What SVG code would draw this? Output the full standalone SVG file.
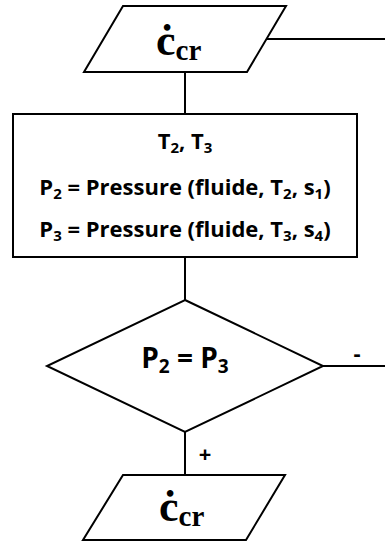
<svg xmlns="http://www.w3.org/2000/svg" width="385" height="543" viewBox="0 0 385 543">
<style>
.s{fill:#fff;stroke:#000;stroke-width:2}
.l{fill:none;stroke:#000;stroke-width:2}
.t{font-family:"Open Sans","Liberation Sans",sans-serif;font-weight:700;fill:#000;text-anchor:middle}
.b{font-size:22px}
.b tspan.u{font-size:15px}
.c{font-family:"Liberation Serif",serif;font-weight:700;fill:#000}
</style>
<rect width="385" height="543" fill="#fff"/>
<g id="connectors">
<line class="l" x1="267" y1="39" x2="385" y2="39"/>
<line class="l" x1="185" y1="72" x2="185" y2="114"/>
<line class="l" x1="185" y1="257" x2="185" y2="300"/>
<line class="l" x1="323" y1="366" x2="385" y2="366"/>
<line class="l" x1="185" y1="432" x2="185" y2="475"/>
<text class="t" x="357" y="361" font-size="22">-</text>
<text class="t" x="205" y="462" font-size="22">+</text>
</g>
<g id="input-top">
<polygon class="s" points="123,6 286,6 247,72 84,72"/>
<text class="c" x="156" y="55" font-size="44">ċ<tspan font-size="29" dy="5">cr</tspan></text>
</g>
<g id="process">
<rect class="s" x="13" y="114" width="344" height="143"/>
<text class="t b" x="185" y="149">T<tspan class="u" dy="4">2</tspan><tspan dy="-4">, T</tspan><tspan class="u" dy="4">3</tspan></text>
<text class="t b" x="185" y="195">P<tspan class="u" dy="4">2</tspan><tspan dy="-4"> = Pressure (fluide, T</tspan><tspan class="u" dy="4">2</tspan><tspan dy="-4">, s</tspan><tspan class="u" dy="4">1</tspan><tspan dy="-4">)</tspan></text>
<text class="t b" x="185" y="237">P<tspan class="u" dy="4">3</tspan><tspan dy="-4"> = Pressure (fluide, T</tspan><tspan class="u" dy="4">3</tspan><tspan dy="-4">, s</tspan><tspan class="u" dy="4">4</tspan><tspan dy="-4">)</tspan></text>
</g>
<g id="decision">
<polygon class="s" points="185,300 323,366 185,432 47,366"/>
<text class="t" x="185" y="368" font-size="28">P<tspan font-size="19" dy="5">2</tspan><tspan dy="-5"> = P</tspan><tspan font-size="19" dy="5">3</tspan></text>
</g>
<g id="output-bottom">
<polygon class="s" points="123,475 285,475 246,540 83,540"/>
<text class="c" x="159" y="521" font-size="44">ċ<tspan font-size="29" dy="5">cr</tspan></text>
</g>
</svg>
